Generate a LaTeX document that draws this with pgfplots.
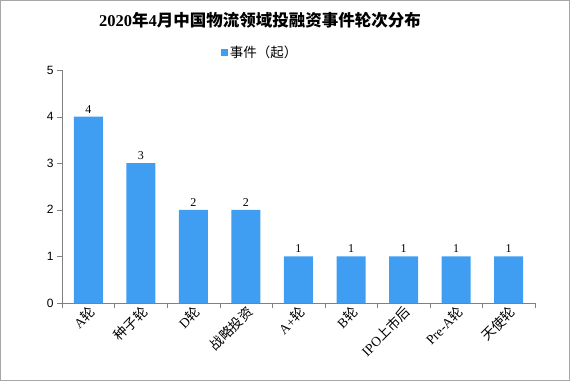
\documentclass[border=0pt]{standalone}
\usepackage{pgfplots}
\pgfplotsset{compat=1.18}
\usepackage{fontspec}
\setmainfont{Liberation Serif}
\setsansfont{Liberation Sans}
\newfontfamily\cjk{Noto Sans CJK SC}
\definecolor{barblue}{RGB}{64,158,242}
\definecolor{axgray}{RGB}{128,128,128}
\begin{document}
\begin{tikzpicture}
\useasboundingbox (-62pt,-78pt) rectangle (508pt,303pt);
\draw[axgray!70, line width=0.8pt] (-61.5pt,-77.5pt) rectangle (507.5pt,302.5pt);
\begin{axis}[
  at={(0,0)}, anchor=south west,
  scale only axis, width=473pt, height=233pt,
  xmin=-0.5, xmax=8.5, ymin=0, ymax=5,
  axis x line=bottom, axis y line=left,
  axis line style={axgray, -},
  xtick={0,...,8},
  xticklabels={{A\cjk 轮},{\cjk 种子轮},{D\cjk 轮},{\cjk 战略投资},{A+\cjk 轮},{B\cjk 轮},{IPO\cjk 上市后},{Pre-A\cjk 轮},{\cjk 天使轮}},
  major x tick style={draw=none},
  minor xtick={-0.5,0.5,...,8.5},
  minor x tick style={axgray},
  minor tick length=5pt,
  xticklabel style={rotate=45, anchor=east, font=\fontsize{13.5}{15}\selectfont, inner sep=1pt, yshift=-4pt, xshift=3pt},
  ytick={0,1,2,3,4,5},
  y tick style={axgray},
  major tick length=5pt,
  tick align=outside,
  yticklabel style={font=\sffamily\fontsize{12}{14}\selectfont},
  /pgf/number format/assume math mode=true,
  ybar, bar width=29pt,
  nodes near coords,
  nodes near coords style={font=\fontsize{12}{14}\selectfont, black},
  legend style={at={(0.419,1.077)}, anchor=center, draw=none, fill=none, font=\cjk\fontsize{13.5}{15}\selectfont},
  legend image code/.code={\fill[barblue] (0pt,-3.5pt) rectangle (7pt,3.5pt);},
  clip=false,
]
\addplot[fill=barblue, draw=none] coordinates {(0,4) (1,3) (2,2) (3,2) (4,1) (5,1) (6,1) (7,1) (8,1)};
\addlegendentry{事件（起）}
\end{axis}
\node[font=\bfseries\fontsize{16.5}{19}\selectfont] at (198pt,283pt) {2020{\cjk\bfseries 年}4{\cjk\bfseries 月中国物流领域投融资事件轮次分布}};
\end{tikzpicture}
\end{document}
